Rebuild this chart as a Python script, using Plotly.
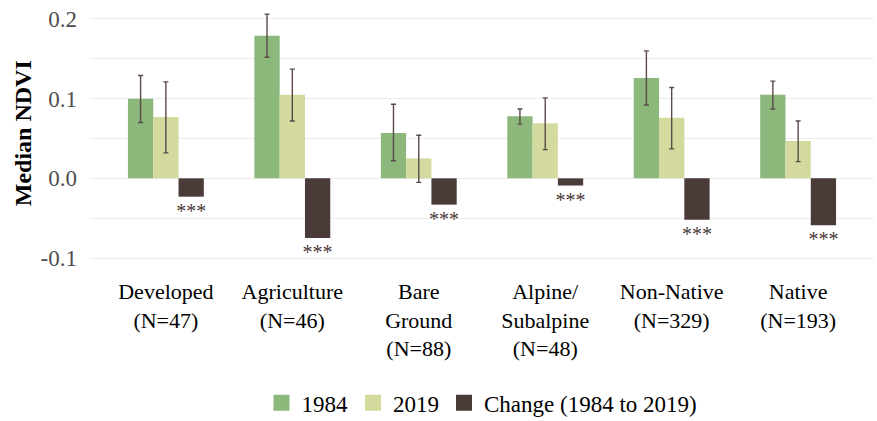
import plotly.graph_objects as go

categories = ["Developed<br>(N=47)", "Agriculture<br>(N=46)", "Bare<br>Ground<br>(N=88)",
              "Alpine/<br>Subalpine<br>(N=48)", "Non-Native<br>(N=329)", "Native<br>(N=193)"]

ndvi_1984 = [0.100, 0.179, 0.057, 0.078, 0.126, 0.105]
ndvi_1984_lo = [0.070, 0.152, 0.022, 0.068, 0.092, 0.087]
ndvi_1984_hi = [0.129, 0.206, 0.093, 0.087, 0.160, 0.122]

ndvi_2019 = [0.077, 0.105, 0.025, 0.069, 0.076, 0.047]
ndvi_2019_lo = [0.032, 0.072, -0.005, 0.036, 0.037, 0.021]
ndvi_2019_hi = [0.121, 0.137, 0.054, 0.101, 0.114, 0.072]

ndvi_change = [-0.023, -0.075, -0.033, -0.009, -0.052, -0.059]
significance = ["***", "***", "***", "***", "***", "***"]

y_tick_vals = [-0.1, 0.0, 0.1, 0.2]
y_tick_text = ["-0.1", "0.0", "0.1", "0.2"]

series_names = ["1984", "2019", "Change (1984 to 2019)"]
C1984 = "#8cb87c"
C2019 = "#d4d99d"
CCHG = "#4a3b39"
ERR = "#5a4b48"
FONT = "Liberation Serif"
colors = [C1984, C2019, CCHG]


def err(vals, lo, hi):
    return dict(type="data", symmetric=False,
                array=[h - v for v, h in zip(vals, hi)],
                arrayminus=[v - l for v, l in zip(vals, lo)],
                color=ERR, thickness=1.4, width=2.5)


fig = go.Figure()
fig.add_trace(go.Bar(name=series_names[0], x=categories, y=ndvi_1984, marker_color=C1984,
                     marker_line_width=0, showlegend=False,
                     error_y=err(ndvi_1984, ndvi_1984_lo, ndvi_1984_hi)))
fig.add_trace(go.Bar(name=series_names[1], x=categories, y=ndvi_2019, marker_color=C2019,
                     marker_line_width=0, showlegend=False,
                     error_y=err(ndvi_2019, ndvi_2019_lo, ndvi_2019_hi)))
fig.add_trace(go.Bar(name=series_names[2], x=categories, y=ndvi_change,
                     marker_color=CCHG, marker_line_width=0, showlegend=False,
                     text=significance, textposition="outside", constraintext="none",
                     textfont=dict(family=FONT, size=20, color=CCHG), cliponaxis=False))

# legend keys (square swatches)
for name, col in zip(series_names, colors):
    fig.add_trace(go.Scatter(x=[None], y=[None], mode="markers", name=name,
                             marker=dict(symbol="square", size=20, color=col, line_width=0)))

fig.update_layout(
    width=877, height=421,
    margin=dict(l=90, r=3, t=7, b=151, autoexpand=False),
    barmode="group", bargap=0.4, bargroupgap=0,
    plot_bgcolor="white", paper_bgcolor="white",
    font=dict(family=FONT, size=23, color="black"),
    legend=dict(orientation="h", x=0.5, xanchor="center", y=-0.505, yanchor="middle",
                font=dict(family=FONT, size=23, color="black"), traceorder="normal",
                itemsizing="trace"),
    xaxis=dict(range=[-0.6, 5.6], showgrid=False, zeroline=False, showline=False,
               ticks="", automargin=False, ticklabelstandoff=6,
               tickfont=dict(family=FONT, size=22, color="black")),
    yaxis=dict(range=[-0.115, 0.215], tickmode="array", tickvals=y_tick_vals,
               ticktext=y_tick_text,
               showgrid=True, gridcolor="#ebebeb", gridwidth=1.1,
               minor=dict(dtick=0.05, tick0=0, showgrid=True, gridcolor="#ebebeb", gridwidth=1),
               zeroline=False, showline=False, ticks="", automargin=False,
               ticklabelstandoff=12,
               tickfont=dict(family=FONT, size=23, color="#4d4d4d")),
    annotations=[dict(text="<b>Median NDVI</b>", textangle=-90, xref="paper", yref="paper",
                      x=-0.0855, y=0.52, xanchor="center", yanchor="middle", showarrow=False,
                      font=dict(family=FONT, size=24, color="black"))],
)

fig.write_html("out.html", config={"displayModeBar": False},
               post_script="document.body.style.margin='0px';")
